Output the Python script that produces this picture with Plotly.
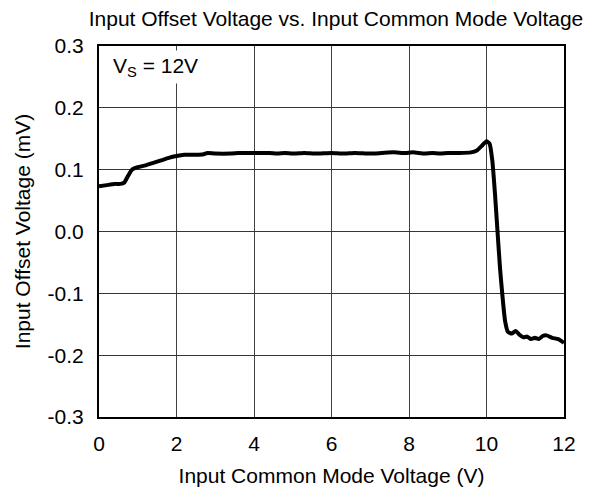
import plotly.graph_objects as go

# Input common mode voltage (V)
vcm = [0.0, 0.2, 0.4, 0.55, 0.65, 0.75, 0.85, 1.0, 1.2, 1.4, 1.6, 1.8, 2.0, 2.2, 2.5,
       2.7, 2.8, 3.0, 3.4, 3.6, 4.0, 4.4, 4.6, 4.8, 5.0, 5.3, 5.6, 6.0, 6.3, 6.6,
       7.0, 7.3, 7.6, 7.9, 8.1, 8.4, 8.6, 8.8, 9.0, 9.3, 9.6, 9.75, 9.9, 10.0,
       10.08, 10.15, 10.22, 10.28, 10.35, 10.42, 10.48, 10.55, 10.65, 10.75, 10.85,
       10.95, 11.05, 11.15, 11.25, 11.35, 11.45, 11.55, 11.7, 11.85, 12.0]

# Input offset voltage (mV)
vos = [0.073, 0.075, 0.077, 0.077, 0.079, 0.090, 0.100, 0.104, 0.107, 0.111, 0.115,
       0.119, 0.122, 0.124, 0.124, 0.125, 0.127, 0.126, 0.126, 0.127, 0.127, 0.127,
       0.126, 0.127, 0.126, 0.127, 0.126, 0.127, 0.126, 0.127, 0.126, 0.127, 0.128,
       0.127, 0.128, 0.126, 0.127, 0.126, 0.127, 0.127, 0.128, 0.131, 0.140, 0.146,
       0.142, 0.115, 0.060, 0.004, -0.060, -0.110, -0.145, -0.162, -0.165, -0.161,
       -0.167, -0.171, -0.170, -0.174, -0.172, -0.174, -0.169, -0.168, -0.172,
       -0.174, -0.180]

x_ticks = [0, 2, 4, 6, 8, 10, 12]
y_ticks = [-0.3, -0.2, -0.1, 0.0, 0.1, 0.2, 0.3]
y_labels = ['-0.3', '-0.2', '-0.1', '0.0', '0.1', '0.2', '0.3']

font = 'Liberation Sans, Arial, sans-serif'

fig = go.Figure()
fig.add_trace(go.Scatter(x=vcm, y=vos, mode='lines', line=dict(color='black', width=4, shape='spline', smoothing=0.5),
                         showlegend=False, hoverinfo='skip'))

# page body adds an 8px margin, so the figure is 16px smaller than the window
fig.update_layout(
    width=580, height=488,
    margin=dict(l=91, r=15, t=38, b=71),
    paper_bgcolor='white', plot_bgcolor='white',
    font=dict(family=font, color='black', size=21),
    title=dict(text='Input Offset Voltage vs. Input Common Mode Voltage', x=0.5655, xanchor='center',
               y=0.9775, yanchor='middle', font=dict(size=21)),
    xaxis=dict(range=[0, 12], tickvals=x_ticks, showgrid=True, gridcolor='#404040', gridwidth=1,
               showline=True, linecolor='black', linewidth=2, mirror=True, ticks='', zeroline=False,
               ticklabelstandoff=7,
               title=dict(text='Input Common Mode Voltage (V)', font=dict(size=21), standoff=14),
               tickfont=dict(size=21)),
    yaxis=dict(range=[-0.3, 0.3], tickvals=y_ticks, ticktext=y_labels, showgrid=True,
               gridcolor='#1f3a60', gridwidth=1, showline=True, linecolor='black', linewidth=2,
               mirror=True, ticks='', zeroline=False, ticklabelstandoff=9,
               title=dict(text='Input Offset Voltage (mV)', font=dict(size=21), standoff=11),
               tickfont=dict(size=21)),
    annotations=[dict(text='V<sub>S</sub> = 12V', x=0.27, y=0.266, xref='x', yref='y', xanchor='left',
                      yanchor='middle', showarrow=False, bgcolor='white', font=dict(size=21),
                      borderpad=3)],
)

fig.write_html("out.html")
